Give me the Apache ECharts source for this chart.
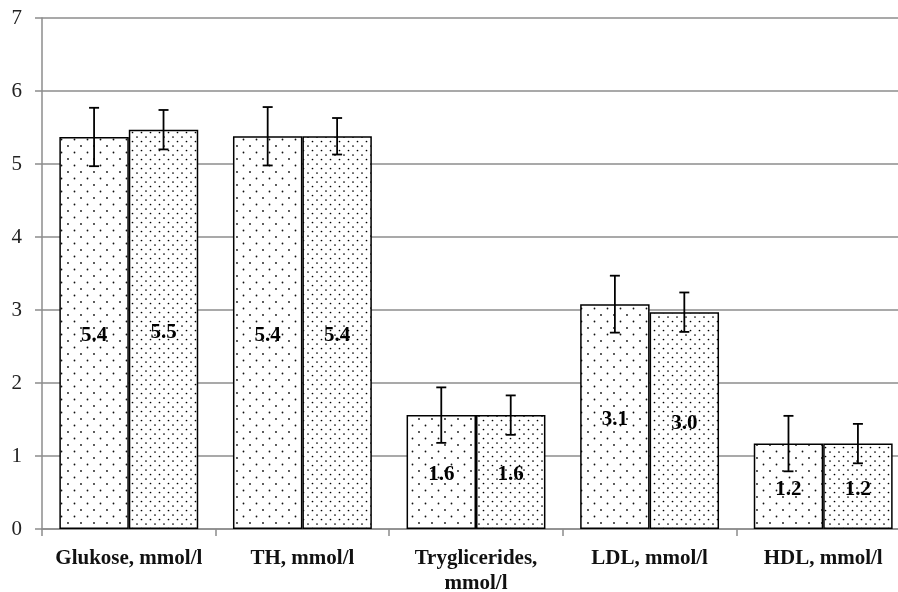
<!DOCTYPE html>
<html>
<head>
<meta charset="utf-8">
<script src="https://cdn.jsdelivr.net/npm/echarts@6/dist/echarts.min.js"></script>
<style>
  html, body { margin: 0; padding: 0; background: #fff; }
  #chart { width: 898px; height: 592px; }
</style>
</head>
<body>
<div id="chart"></div>
<script>
// Lipid and glucose profile, two groups, mean ± SD
const categories = ['Glukose, mmol/l', 'TH, mmol/l', 'Tryglicerides,\nmmol/l', 'LDL, mmol/l', 'HDL, mmol/l'];
const groupA = [5.37, 5.38, 1.56, 3.08, 1.17];
const groupB = [5.47, 5.38, 1.56, 2.97, 1.17];
const sdA = [0.4, 0.4, 0.38, 0.39, 0.38];
const sdB = [0.27, 0.25, 0.27, 0.27, 0.27];
const yTicks = [0, 1, 2, 3, 4, 5, 6, 7];

// Dotted fill tiles
function dotTile(size, dots, r, color) {
  const c = document.createElement('canvas');
  c.width = size; c.height = size;
  const ctx = c.getContext('2d');
  ctx.fillStyle = '#fff';
  ctx.fillRect(0, 0, size, size);
  ctx.fillStyle = color;
  dots.forEach(([x, y]) => {
    ctx.beginPath();
    ctx.arc(x, y, r, 0, Math.PI * 2);
    ctx.fill();
  });
  return c;
}
const sparseTile = dotTile(13, [[3, 3], [9.5, 9.5]], 0.9, '#111');
const denseTile = dotTile(9, [[2, 2], [6.5, 6.5]], 0.85, '#000');

const BAR_FRAC = 0.4;
const serif = '"Liberation Serif", "Times New Roman", serif';

function errorSeries(values, sds, side) {
  return {
    type: 'custom',
    z: 10,
    data: values.map((v, i) => [i, v - sds[i], v + sds[i]]),
    renderItem: function (params, api) {
      const i = api.value(0);
      const catW = api.size([1, 0])[0];
      const dx = side * catW * BAR_FRAC / 2;
      const lo = api.coord([i, api.value(1)]);
      const hi = api.coord([i, api.value(2)]);
      const x = lo[0] + dx;
      const cap = 5;
      const style = { stroke: '#000', lineWidth: 1.8 };
      return {
        type: 'group',
        children: [
          { type: 'line', shape: { x1: x, y1: lo[1], x2: x, y2: hi[1] }, style: style },
          { type: 'line', shape: { x1: x - cap, y1: lo[1], x2: x + cap, y2: lo[1] }, style: style },
          { type: 'line', shape: { x1: x - cap, y1: hi[1], x2: x + cap, y2: hi[1] }, style: style }
        ]
      };
    }
  };
}

function barSeries(values, tile) {
  return {
    type: 'bar',
    data: values,
    barWidth: (BAR_FRAC * 100) + '%',
    barGap: '0%',
    itemStyle: {
      color: { image: tile, repeat: 'repeat' },
      borderColor: '#000',
      borderWidth: 1.5
    },
    label: {
      show: true,
      position: 'inside',
      offset: [0, 3],
      formatter: p => p.value.toFixed(1),
      fontFamily: serif,
      fontWeight: 'bold',
      fontSize: 21,
      color: '#000'
    }
  };
}

const chart = echarts.init(document.getElementById('chart'));
chart.setOption({
  animation: false,
  backgroundColor: '#fff',
  grid: {
    left: 42, width: 868, top: 18, height: 511,
    containLabel: false,
    outerBoundsMode: 'none'
  },
  xAxis: {
    type: 'category',
    data: categories,
    axisLine: { lineStyle: { color: '#8c8c8c', width: 1.5 } },
    axisTick: { show: true, length: 7, lineStyle: { color: '#8c8c8c', width: 1.5 } },
    axisLabel: {
      interval: 0,
      fontFamily: serif,
      fontWeight: 'bold',
      fontSize: 21,
      color: '#111',
      margin: 17,
      lineHeight: 25
    }
  },
  yAxis: {
    type: 'value',
    min: yTicks[0],
    max: yTicks[yTicks.length - 1],
    interval: 1,
    axisLine: { show: true, lineStyle: { color: '#8c8c8c', width: 1.5 } },
    axisTick: { show: true, length: 7, lineStyle: { color: '#8c8c8c', width: 1.5 } },
    splitLine: { lineStyle: { color: '#8c8c8c', width: 1.5 } },
    axisLabel: {
      fontFamily: serif,
      fontSize: 21,
      color: '#222',
      margin: 20
    }
  },
  series: [
    barSeries(groupA, sparseTile),
    barSeries(groupB, denseTile),
    errorSeries(groupA, sdA, -1),
    errorSeries(groupB, sdB, 1)
  ]
});
</script>
</body>
</html>
